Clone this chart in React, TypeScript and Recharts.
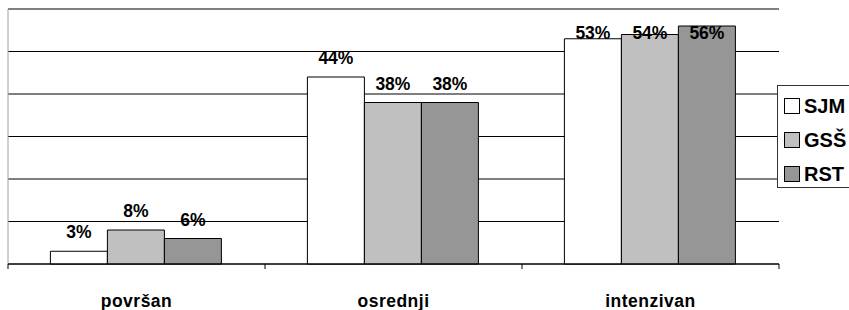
import React from 'react';
import { BarChart, Bar, XAxis, YAxis, CartesianGrid, LabelList, Legend, ReferenceLine } from 'recharts';

const categories = ['površan', 'osrednji', 'intenzivan'];
const sjmValues = [3, 44, 53];
const gssValues = [8, 38, 54];
const rstValues = [6, 38, 56];
const seriesNames = ['SJM', 'GSŠ', 'RST'];
const seriesColors = ['#ffffff', '#c0c0c0', '#969696'];
const yTicks = [0, 10, 20, 30, 40, 50, 60];

const data = categories.map((c, i) => ({
  name: c,
  SJM: sjmValues[i],
  'GSŠ': gssValues[i],
  RST: rstValues[i],
}));

const FONT = '"Liberation Sans", Arial, sans-serif';

const CatTick = (props: any) => {
  const { x, y, payload, index } = props;
  const off = payload && payload.offset ? payload.offset : 0;
  return (
    <g>
      {index === 0 && <line x1={x - off} x2={x - off} y1={y} y2={y + 5} stroke="#000" />}
      <line x1={x + off} x2={x + off} y1={y} y2={y + 5} stroke="#000" />
      <text
        x={x}
        y={y + 43}
        textAnchor="middle"
        fontFamily={FONT}
        fontWeight="bold"
        fontSize={17.5}
        letterSpacing={0.5}
        fill="#000"
      >
        {payload.value}
      </text>
    </g>
  );
};

const TopLabel = (props: any) => {
  const { x, y, width, value } = props;
  return (
    <text
      x={Number(x) + Number(width) / 2}
      y={Math.max(Number(y) - 13, 39)}
      textAnchor="middle"
      fontFamily={FONT}
      fontWeight="bold"
      fontSize={17.5}
      fill="#000"
    >
      {value}%
    </text>
  );
};

const renderLegend = () => (
  <div
    style={{
      border: '1px solid #333',
      background: '#fff',
      width: 90,
      height: 103,
      boxSizing: 'border-box',
      paddingTop: 3,
      paddingLeft: 6,
    }}
  >
    {seriesNames.map((s, i) => (
      <div key={s} style={{ display: 'flex', alignItems: 'center', height: 34 }}>
        <div
          style={{
            width: 14,
            height: 14,
            border: '1px solid #000',
            background: seriesColors[i],
            marginRight: 4,
          }}
        />
        <span style={{ fontFamily: FONT, fontWeight: 'bold', fontSize: 20, color: '#000', lineHeight: '20px' }}>{s}</span>
      </div>
    ))}
  </div>
);

export default function App() {
  return (
    <div style={{ position: 'absolute', left: 0, top: 0 }}>
      <BarChart
        width={849}
        height={310}
        data={data}
        margin={{ top: 9, right: 70, left: 8, bottom: 0 }}
        barCategoryGap="16.5%"
        barGap={0}
      >
        <CartesianGrid vertical={false} stroke="#000" />
        <XAxis
          dataKey="name"
          height={46}
          tickLine={false}
          tickSize={0}
          tickMargin={0}
          axisLine={{ stroke: '#000' }}
          tick={<CatTick />}
          interval={0}
        />
        <XAxis xAxisId="n" type="number" domain={[0, 3]} hide />
        <YAxis hide domain={[0, 60]} ticks={yTicks} />
        <Bar dataKey="SJM" fill={seriesColors[0]} stroke="#000" strokeWidth={1} isAnimationActive={false}>
          <LabelList dataKey="SJM" content={<TopLabel />} />
        </Bar>
        <Bar dataKey="GSŠ" fill={seriesColors[1]} stroke="#000" strokeWidth={1} isAnimationActive={false}>
          <LabelList dataKey="GSŠ" content={<TopLabel />} />
        </Bar>
        <Bar dataKey="RST" fill={seriesColors[2]} stroke="#000" strokeWidth={1} isAnimationActive={false}>
          <LabelList dataKey="RST" content={<TopLabel />} />
        </Bar>
        <ReferenceLine y={60} stroke="#808080" strokeWidth={2} />
        <ReferenceLine x={0} xAxisId="n" stroke="#a0a0a0" strokeWidth={1} />
        <ReferenceLine x={3} xAxisId="n" stroke="#808080" strokeWidth={2} />
        <Legend
          layout="vertical"
          align="center"
          verticalAlign="middle"
          content={renderLegend}
          wrapperStyle={{ left: 777, top: 85, width: 90, height: 103 }}
        />
      </BarChart>
    </div>
  );
}
